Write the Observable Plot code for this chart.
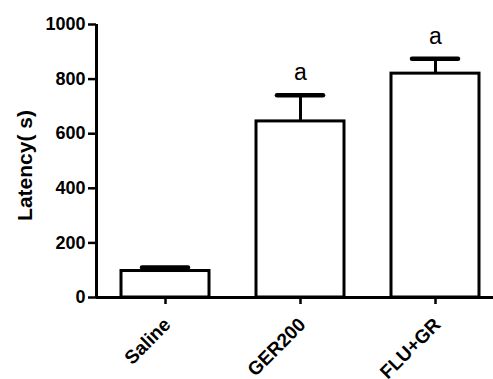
<!DOCTYPE html>
<html>
<head>
<meta charset="utf-8">
<script src="https://cdn.jsdelivr.net/npm/d3@7"></script>
<script src="https://cdn.jsdelivr.net/npm/@observablehq/plot@0.6"></script>
<style>
  html, body { margin: 0; padding: 0; background: white; }
</style>
</head>
<body>
<div id="chart"></div>
<script>
const groups = ["Saline", "GER200", "FLU+GR"];
const means = [97, 645, 820];
const errors = [13, 96, 55];
const sigLabels = ["", "a", "a"];
const yTicks = [0, 200, 400, 600, 800, 1000];
const yLabel = "Latency( s)";

const data = groups.map((g, i) => ({group: g, mean: means[i], err: errors[i], top: means[i] + errors[i], sig: sigLabels[i]}));

const W = 493, H = 379, ML = 96, MT = 24, MB = 82, MR = 0;
const font = "'Liberation Sans', Arial, Helvetica, sans-serif";

const chart = Plot.plot({
  width: W,
  height: H,
  marginLeft: ML,
  marginRight: MR,
  marginTop: MT,
  marginBottom: MB,
  style: {fontFamily: font, background: "white", color: "black", overflow: "visible"},
  x: {domain: groups, range: [96, 503], paddingInner: 0.35, paddingOuter: 0.177},
  y: {domain: [0, 1000], range: [297, 24]},
  marks: [
    Plot.barY(data, {x: "group", y: "mean", fill: "white", stroke: "black", strokeWidth: 3}),
    Plot.ruleX(data, {x: "group", y1: "mean", y2: "top", stroke: "black", strokeWidth: 3}),
    Plot.tickY(data, {x: "group", y: "top", stroke: "black", strokeWidth: 4.5, insetLeft: 21, insetRight: 21, strokeLinecap: "round"}),
    Plot.text(data, {x: "group", y: "top", text: "sig", dy: -15, lineAnchor: "bottom", fontSize: 23, fill: "black"}),
    Plot.ruleY([0], {stroke: "black", strokeWidth: 3}),
    Plot.ruleX([0], {x: null, y1: 0, y2: 1000, dx: -(W - ML - MR) / 2, stroke: "black", strokeWidth: 3}),
    Plot.axisY({ticks: yTicks, tickFormat: "d", tickSize: 8, tickPadding: 3, strokeWidth: 2.5, fontSize: 18, fontWeight: "bold", label: null, fill: "black"}),
    Plot.axisX({tickSize: 7, tickFormat: null, strokeWidth: 2.5, label: null}),
    Plot.axisX({tickSize: 0, tickPadding: 11, dx: 2, dy: 13, tickRotate: -45, fontSize: 19, fontWeight: "bold", label: null, fill: "black"}),
    Plot.text([yLabel], {frameAnchor: "left", textAnchor: "middle", dx: -71, dy: 4.5, rotate: -90, fontSize: 21, fontWeight: "bold", fill: "black"})
  ]
});
document.getElementById("chart").appendChild(chart);
</script>
</body>
</html>
